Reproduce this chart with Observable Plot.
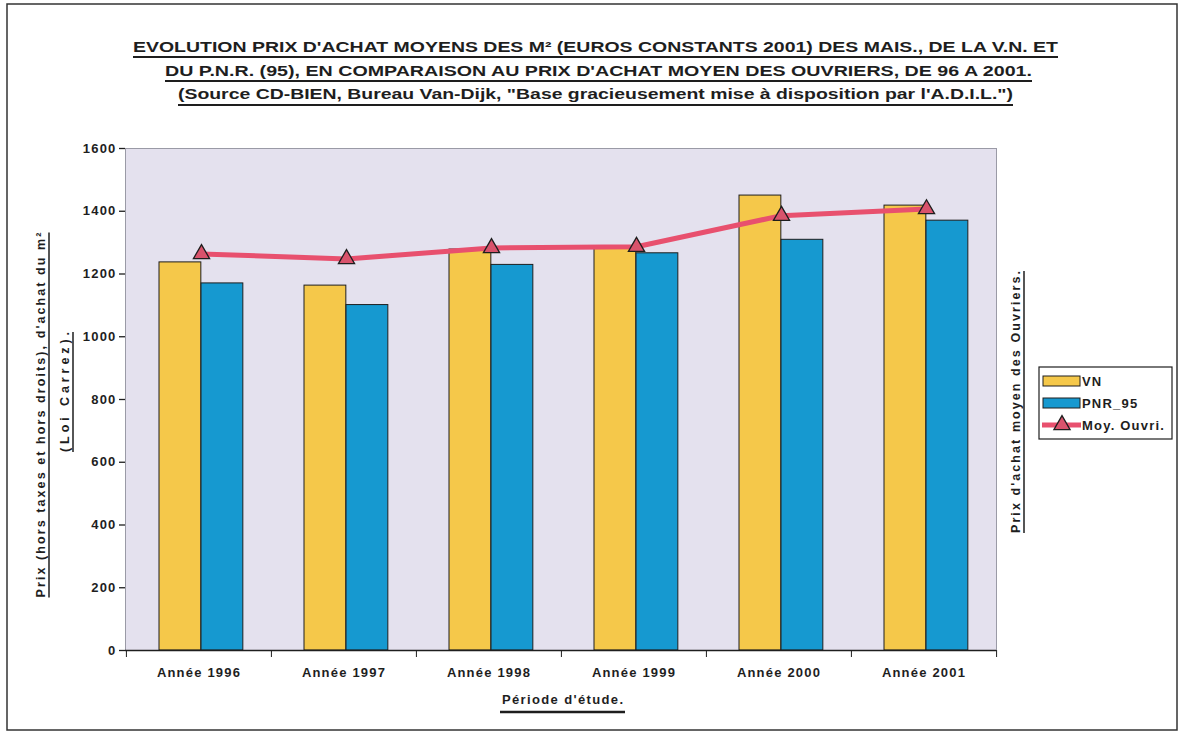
<!DOCTYPE html>
<html>
<head>
<meta charset="utf-8">
<script src="https://cdn.jsdelivr.net/npm/d3@7"></script>
<script src="https://cdn.jsdelivr.net/npm/@observablehq/plot@0.6"></script>
<style>
  html, body { margin: 0; padding: 0; background: #ffffff; }
  #wrap { position: relative; width: 1180px; height: 733px; overflow: hidden; background: #fff; }
  #wrap > svg { position: absolute; left: 0; top: 0; }
  #overlay { pointer-events: none; }
</style>
</head>
<body>
<div id="wrap"></div>
<script>
// ---- data ----
const years = ["Année 1996", "Année 1997", "Année 1998", "Année 1999", "Année 2000", "Année 2001"];
const vnValues = [1237, 1163, 1278, 1280, 1450, 1418];
const pnrValues = [1170, 1101, 1229, 1266, 1309, 1370];
const ouvrValues = [1264, 1248, 1283, 1287, 1386, 1407];
const yTicks = [0, 200, 400, 600, 800, 1000, 1200, 1400, 1600];
const seriesNames = ["VN", "PNR_95", "Moy. Ouvri."];
const titleLines = [
  "EVOLUTION PRIX D'ACHAT MOYENS DES M² (EUROS CONSTANTS 2001) DES MAIS., DE LA V.N. ET",
  "DU P.N.R. (95), EN COMPARAISON AU PRIX D'ACHAT MOYEN DES OUVRIERS, DE 96 A 2001.",
  "(Source CD-BIEN, Bureau Van-Dijk, \"Base gracieusement mise à disposition par l'A.D.I.L.\")"
];
const yLabelLines = ["Prix (hors taxes et hors droits), d'achat du m²", "(Loi Carrez)."];
const y2Label = "Prix d'achat moyen des Ouvriers.";
const xLabel = "Période d'étude.";

const rows = years.map((y, i) => ({year: y, vn: vnValues[i], pnr: pnrValues[i], ouvr: ouvrValues[i]}));

// ---- style ----
const YELLOW = "#f5c84a";
const BLUE = "#1699d0";
const PINK = "#e8506e";
const TRI = "#d9536c";
const BG = "#e4e1ee";
const INK = "#1e1e1e";
const FONT = "'Liberation Sans', Arial, sans-serif";

const W = 1180, H = 733;
const mL = 125, mR = 184, mT = 148, mB = 83;
const bw = (W - mL - mR) / years.length;

const chart = Plot.plot({
  width: W, height: H,
  marginLeft: mL, marginRight: mR, marginTop: mT, marginBottom: mB,
  style: {background: "transparent", fontFamily: FONT, fontSize: "13px", fontWeight: "bold", color: INK, letterSpacing: "1.2px"},
  x: {domain: years, padding: 0, label: null},
  y: {domain: [0, 1600], label: null},
  marks: [
    Plot.frame({fill: BG, stroke: "#9a9aa6", strokeWidth: 1}),
    Plot.barY(rows, {x: "year", y: "vn", fill: YELLOW, stroke: INK, strokeWidth: 1, insetLeft: 33, insetRight: bw - 75}),
    Plot.barY(rows, {x: "year", y: "pnr", fill: BLUE, stroke: INK, strokeWidth: 1, insetLeft: 75, insetRight: bw - 117}),
    Plot.line(rows, {x: "year", y: "ouvr", stroke: PINK, strokeWidth: 5, dx: 2.5, strokeLinejoin: "round"}),
    Plot.dot(rows, {x: "year", y: "ouvr", symbol: "triangle", r: 6, fill: TRI, stroke: INK, strokeWidth: 1.3, dx: 2.5}),
    Plot.ruleY([0], {stroke: INK, strokeWidth: 1.5}),
    Plot.axisY({ticks: yTicks, tickSize: 6, tickPadding: 3, tickFormat: d => String(d), label: null, line: true, stroke: INK, strokeWidth: 1.3}),
    Plot.axisX({tickSize: 0, tickPadding: 17, label: null}),
    Plot.axisX({text: null, tickSize: 7, dx: -bw / 2, label: null, stroke: INK}),
    Plot.axisX({ticks: [years[years.length - 1]], text: null, tickSize: 7, dx: bw / 2, label: null, stroke: INK})
  ]
});
document.getElementById("wrap").appendChild(chart);

// ---- overlay: titles, axis titles, legend, border ----
const ov = d3.select("#wrap").append("svg").attr("id", "overlay")
  .attr("width", W).attr("height", H)
  .style("font-family", FONT).style("font-weight", "bold").style("fill", INK);

// outer border
ov.append("rect").attr("x", 7).attr("y", 4).attr("width", 1170).attr("height", 726)
  .attr("fill", "none").attr("stroke", "#333").attr("stroke-width", 1.5);

// title
const titleSpec = [
  {x1: 133, x2: 1058, base: 52, ul: 57},
  {x1: 165, x2: 1032, base: 76, ul: 81},
  {x1: 178, x2: 1013, base: 99, ul: 105}
];
titleLines.forEach((t, i) => {
  const s = titleSpec[i];
  ov.append("text").attr("x", s.x1).attr("y", s.base)
    .attr("textLength", s.x2 - s.x1).attr("lengthAdjust", "spacingAndGlyphs")
    .style("font-size", "15px").text(t);
  ov.append("line").attr("x1", s.x1).attr("x2", s.x2).attr("y1", s.ul).attr("y2", s.ul)
    .attr("stroke", INK).attr("stroke-width", 2);
});

// left axis title (rotated)
const yl = [
  {cx: 45, cy: 415, len: 365},
  {cx: 69, cy: 392, len: 120}
];
yLabelLines.forEach((t, i) => {
  const s = yl[i];
  const g = ov.append("g").attr("transform", `translate(${s.cx},${s.cy}) rotate(-90)`);
  g.append("text").attr("x", -s.len / 2).attr("y", 0)
    .attr("textLength", s.len).attr("lengthAdjust", "spacing")
    .style("font-size", "12.5px").text(t);
  g.append("line").attr("x1", -s.len / 2).attr("x2", s.len / 2).attr("y1", 4).attr("y2", 4)
    .attr("stroke", INK).attr("stroke-width", 1.5);
});

// right axis title
{
  const len = 262, cx = 1020, cy = 402;
  const g = ov.append("g").attr("transform", `translate(${cx},${cy}) rotate(-90)`);
  g.append("text").attr("x", -len / 2).attr("y", 0)
    .attr("textLength", len).attr("lengthAdjust", "spacing")
    .style("font-size", "12.5px").text(y2Label);
  g.append("line").attr("x1", -len / 2).attr("x2", len / 2).attr("y1", 4).attr("y2", 4)
    .attr("stroke", INK).attr("stroke-width", 1.5);
}

// x axis title
ov.append("text").attr("x", 502).attr("y", 704).attr("textLength", 121).attr("lengthAdjust", "spacing")
  .style("font-size", "13px").text(xLabel);
ov.append("line").attr("x1", 500).attr("x2", 625).attr("y1", 712).attr("y2", 712)
  .attr("stroke", INK).attr("stroke-width", 2.5);

// legend
const lg = ov.append("g");
lg.append("rect").attr("x", 1039).attr("y", 367).attr("width", 133).attr("height", 72)
  .attr("fill", "#fff").attr("stroke", INK).attr("stroke-width", 1.2);
const legY = [381, 403, 425];
lg.append("rect").attr("x", 1043).attr("y", legY[0] - 5).attr("width", 37).attr("height", 10)
  .attr("fill", YELLOW).attr("stroke", INK);
lg.append("rect").attr("x", 1043).attr("y", legY[1] - 5).attr("width", 37).attr("height", 10)
  .attr("fill", BLUE).attr("stroke", INK);
lg.append("line").attr("x1", 1042).attr("x2", 1081).attr("y1", legY[2]).attr("y2", legY[2])
  .attr("stroke", PINK).attr("stroke-width", 5);
lg.append("path").attr("d", d3.symbol(d3.symbolTriangle, Math.PI * 36)())
  .attr("transform", `translate(1062,${legY[2]})`).attr("fill", TRI).attr("stroke", INK).attr("stroke-width", 1.3);
seriesNames.forEach((n, i) => {
  lg.append("text").attr("x", 1082).attr("y", legY[i]).attr("dy", "0.36em")
    .style("font-size", "13px").style("letter-spacing", "1.2px").text(n);
});
</script>
</body>
</html>
